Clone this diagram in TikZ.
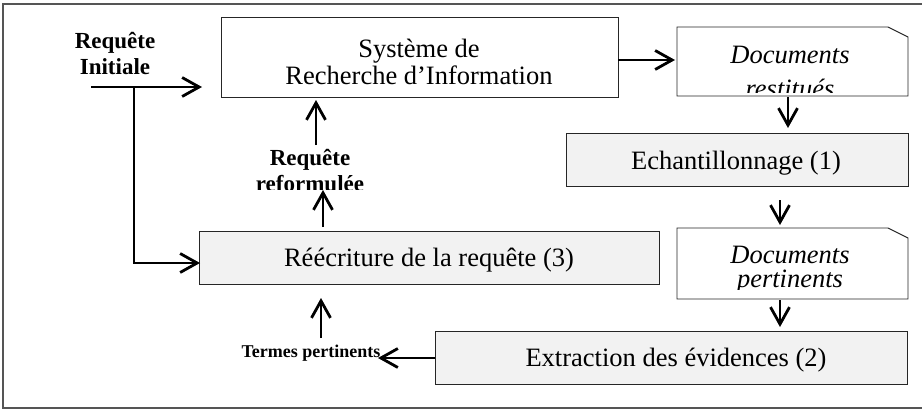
\documentclass[tikz,border=0pt]{standalone}
\usepackage{fontspec}
\setmainfont{Liberation Serif}[BoldFont={Liberation Serif Bold},ItalicFont={Liberation Serif Italic},BoldItalicFont={Liberation Serif Bold Italic}]
\usetikzlibrary{arrows.meta,calc}
\definecolor{boxgray}{HTML}{F2F2F2}
\definecolor{framegray}{HTML}{555555}
\begin{document}
\begin{tikzpicture}[x=1pt,y=-1pt,
  box/.style={draw=black!85,line width=0.9pt,inner sep=0pt,outer sep=0pt},
  graybox/.style={box,fill=boxgray},
  txt/.style={anchor=base,inner sep=0pt,font=\fontsize{26.5}{30}\selectfont},
  itxt/.style={anchor=base,inner sep=0pt,font=\itshape\fontsize{26.5}{30}\selectfont},
  btxt/.style={anchor=base,inner sep=0pt,font=\bfseries\fontsize{23}{26}\selectfont},
  stxt/.style={anchor=base,inner sep=0pt,font=\bfseries\fontsize{18}{21}\selectfont},
  arr/.style={line width=2.8pt,-{Straight Barb[length=17pt,width=19pt]}}]
\useasboundingbox (0,0) rectangle (922,410);
% outer frame (open on the right)
\draw[framegray,line width=1.5pt] (930,4) -- (3,4) -- (3,408) -- (930,408);

% boxes
\node[box,minimum width=397pt,minimum height=80pt] (sri) at (419.5,57) {};
\node[graybox,minimum width=342pt,minimum height=53pt] (ech) at (737,159.5) {};
\node[graybox,minimum width=460pt,minimum height=53pt] (ree) at (429,257.5) {};
\node[graybox,minimum width=472pt,minimum height=53pt] (ext) at (671,357.5) {};
\node[inner sep=0pt,outer sep=0pt,minimum width=231pt,minimum height=69pt] (docr) at (792.5,61.5) {};
\node[inner sep=0pt,outer sep=0pt,minimum width=231pt,minimum height=71pt] (docp) at (792.5,263.5) {};
\foreach \d in {docr,docp}{
  \draw[box,fill=white] (\d.north west) -- ($(\d.north east)+(-20,0)$) -- ($(\d.north east)+(0,10)$)
     -- (\d.south east) -- (\d.south west) -- cycle;
}

% texts
\node[txt] (t1) at (419,57) {Système de};
\node[txt] (t2) at (419,84) {Recherche d’Information};
\node[txt] (t3) at (736,169) {Echantillonnage (1)};
\node[txt] (t4) at (429,266) {Réécriture de la requête (3)};
\node[txt] (t5) at (676,366) {Extraction des évidences (2)};
\node[itxt] (d1) at (790,63) {Documents};
\begin{scope}
  \clip (677,27) rectangle (908,92);
  \node[itxt] (d2) at (790,97.5) {restitués};
\end{scope}
\node[itxt] (d3) at (790,263) {Documents};
\begin{scope}
  \clip (677,228) rectangle (908,289);
  \node[itxt] (d4) at (790,287) {pertinents};
\end{scope}
\node[btxt] (ri1) at (115,48) {Requête};
\node[btxt] (ri2) at (115,74) {Initiale};
\node[btxt] (rf1) at (310,165) {Requête};
\begin{scope}
  \clip (250,150) rectangle (380,189);
  \node[btxt] (rf2) at (310,191) {reformulée};
\end{scope}
\node[stxt] (tp) at (311,357) {Termes pertinents};

% connectors
\coordinate (ristart) at (91,87);
\coordinate (rijoin) at (134,87);
\coordinate (ribend) at (134,263);
\draw[arr] (ristart) -- ($(sri.west|-ristart)+(-19,0)$);
\draw[arr] (rijoin) -- (ribend) -- ($(ree.west|-ribend)+(1,0)$);
\draw[arr] (sri.east|-0,60) -- ($(docr.west|-0,60)+(-2,0)$);
\draw[arr] (788,97) -- ($(788,0)+(ech.north-|0,0)+(0,-5)$);
\draw[arr] (780,200) -- ($(780,0)+(docp.north-|0,0)+(0,-3)$);
\draw[arr] (780,300) -- ($(780,0)+(ext.north-|0,0)+(0,-4)$);
\draw[arr] (ext.west|-0,358) -- (378,358);
\draw[arr] (321,338) -- ($(321,0)+(ree.south-|0,0)+(0,14)$);
\draw[arr] ($(323,0)+(ree.north-|0,0)+(0,-4)$) -- (323,190);
\draw[arr] (316,145) -- ($(316,0)+(sri.south-|0,0)+(0,3)$);
\end{tikzpicture}
\end{document}
